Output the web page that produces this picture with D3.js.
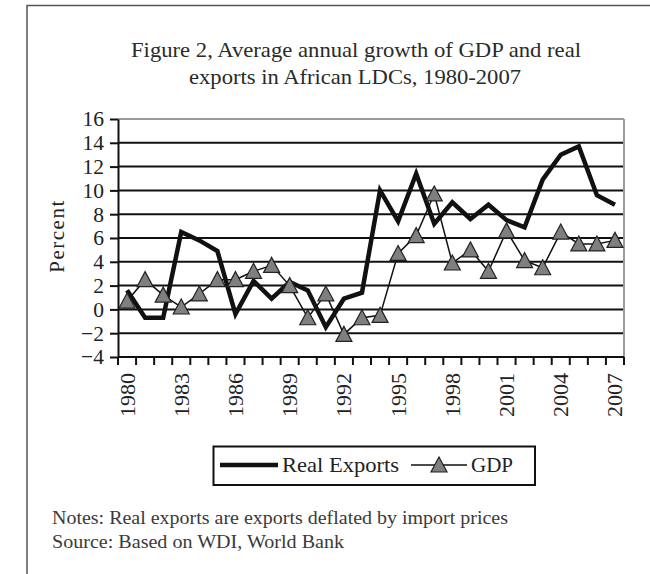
<!DOCTYPE html>
<html>
<head>
<meta charset="utf-8">
<script src="https://cdn.jsdelivr.net/npm/d3@7"></script>
<style>
  body { margin: 0; background: #fff; }
  svg { display: block; font-family: "Liberation Serif", "DejaVu Serif", serif; }
</style>
</head>
<body>
<div id="chart"></div>
<script>
// values (percent)
const years = d3.range(1980, 2008);
const labelYears = [1980, 1983, 1986, 1989, 1992, 1995, 1998, 2001, 2004, 2007];
const realExports = [1.6, -0.7, -0.7, 6.5, 5.8, 4.9, -0.4, 2.4, 0.9, 2.3, 1.6, -1.5, 0.9, 1.4,
  10.0, 7.4, 11.4, 7.2, 9.0, 7.6, 8.8, 7.5, 6.9, 10.9, 13.0, 13.7, 9.6, 8.8];
const gdp = [0.7, 2.5, 1.2, 0.2, 1.3, 2.5, 2.5, 3.2, 3.7, 2.0, -0.7, 1.3, -2.1, -0.7,
  -0.5, 4.7, 6.2, 9.7, 3.9, 5.0, 3.2, 6.6, 4.1, 3.5, 6.5, 5.5, 5.5, 5.8];
const yTicks = d3.range(-4, 17, 2);

const W = 650, H = 574;
const plot = { left: 118, right: 624, top: 119, bottom: 357 };
const ink = "#222";

const svg = d3.select("#chart").append("svg")
  .attr("width", W).attr("height", H);

svg.append("rect").attr("width", W).attr("height", H).attr("fill", "#fff");

// page frame (cropped at the right and bottom edges)
svg.append("rect")
  .attr("x", 27).attr("y", 5.5)
  .attr("width", 700).attr("height", 700)
  .attr("fill", "none").attr("stroke", "#555").attr("stroke-width", 1.5);

const x = d3.scaleBand().domain(years).range([plot.left, plot.right]).padding(0);
const y = d3.scaleLinear().domain([-4, 16]).range([plot.bottom, plot.top]);

// title
const title = svg.append("g").attr("fill", "#2a2a2a").attr("font-size", 21)
  .attr("text-anchor", "middle");
title.append("text").attr("x", 356).attr("y", 57)
  .attr("textLength", 450).attr("lengthAdjust", "spacingAndGlyphs")
  .text("Figure 2, Average annual growth of GDP and real");
title.append("text").attr("x", 355).attr("y", 84)
  .attr("textLength", 332).attr("lengthAdjust", "spacingAndGlyphs")
  .text("exports in African LDCs, 1980-2007");

// gridlines
svg.append("g")
  .selectAll("line")
  .data(yTicks.filter(v => v > -4))
  .join("line")
  .attr("x1", plot.left).attr("x2", plot.right)
  .attr("y1", d => y(d)).attr("y2", d => y(d))
  .attr("stroke", d => d === 16 ? "#9a9a9a" : "#111")
  .attr("stroke-width", 2);

// right border of plot area
svg.append("line")
  .attr("x1", plot.right).attr("x2", plot.right)
  .attr("y1", plot.top).attr("y2", plot.bottom)
  .attr("stroke", "#9a9a9a").attr("stroke-width", 2);

// y axis
const yAxis = svg.append("g")
  .attr("transform", `translate(${plot.left},0)`)
  .call(d3.axisLeft(y).tickValues(yTicks).tickFormat(d3.format("d"))
    .tickSize(8).tickSizeOuter(0).tickPadding(6));
yAxis.select(".domain").attr("stroke", "#111").attr("stroke-width", 2);
yAxis.selectAll(".tick line").attr("stroke", "#111").attr("stroke-width", 2);
yAxis.selectAll("text").attr("font-size", 21.5).attr("fill", ink)
  .attr("font-family", "Liberation Serif");

svg.append("text")
  .attr("transform", "translate(64,236) rotate(-90)")
  .attr("text-anchor", "middle")
  .attr("font-size", 21).attr("letter-spacing", 1.5).attr("fill", ink)
  .text("Percent");

// x axis: ticks between categories, labels every third year
const xAxis = svg.append("g")
  .attr("transform", `translate(0,${plot.bottom})`)
  .call(d3.axisBottom(x).tickValues(labelYears).tickSize(0).tickPadding(0));
xAxis.select(".domain").remove();
xAxis.selectAll("text")
  .attr("font-size", 22).attr("fill", ink).attr("font-family", "Liberation Serif")
  .attr("text-anchor", "end")
  .attr("transform", "translate(0,16) rotate(-90)")
  .attr("x", 0).attr("y", 0).attr("dy", "0.34em");

const gx = svg.append("g");
gx.append("line")
  .attr("x1", plot.left).attr("x2", plot.right)
  .attr("y1", plot.bottom).attr("y2", plot.bottom)
  .attr("stroke", "#111").attr("stroke-width", 2);
gx.selectAll("line.tk")
  .data(years.map(d => x(d)).concat([plot.right]))
  .join("line").attr("class", "tk")
  .attr("x1", d => d).attr("x2", d => d)
  .attr("y1", plot.bottom).attr("y2", plot.bottom + 8)
  .attr("stroke", "#111").attr("stroke-width", 2);

const cx = d => x(d) + x.bandwidth() / 2;

// GDP thin line
svg.append("path")
  .datum(gdp)
  .attr("fill", "none").attr("stroke", "#111").attr("stroke-width", 1.5)
  .attr("d", d3.line().x((d, i) => cx(years[i])).y(d => y(d)));

// real exports thick line
svg.append("path")
  .datum(realExports)
  .attr("fill", "none").attr("stroke", "#111").attr("stroke-width", 4.5)
  .attr("stroke-linejoin", "miter")
  .attr("d", d3.line().x((d, i) => cx(years[i])).y(d => y(d)));

const tri = "M0,-8L8,7L-8,7Z";
svg.append("g")
  .selectAll("path")
  .data(gdp)
  .join("path")
  .attr("transform", (d, i) => `translate(${cx(years[i])},${y(d)})`)
  .attr("d", tri)
  .attr("fill", "#7f7f7f").attr("stroke", "#222").attr("stroke-width", 1.2);

// legend
const lg = svg.append("g");
lg.append("rect")
  .attr("x", 213.5).attr("y", 446.5).attr("width", 321.5).attr("height", 38.5)
  .attr("fill", "#fff").attr("stroke", "#111").attr("stroke-width", 2);
lg.append("line").attr("x1", 220).attr("x2", 278).attr("y1", 465).attr("y2", 465)
  .attr("stroke", "#111").attr("stroke-width", 4.5);
lg.append("text").attr("x", 282).attr("y", 465).attr("dy", "0.34em")
  .attr("font-size", 21).attr("fill", ink)
  .attr("textLength", 117).attr("lengthAdjust", "spacingAndGlyphs")
  .text("Real Exports");
lg.append("line").attr("x1", 411).attr("x2", 467).attr("y1", 465).attr("y2", 465)
  .attr("stroke", "#111").attr("stroke-width", 1.5);
lg.append("path").attr("transform", "translate(439,465)").attr("d", tri)
  .attr("fill", "#7f7f7f").attr("stroke", "#222").attr("stroke-width", 1.2);
lg.append("text").attr("x", 471).attr("y", 465).attr("dy", "0.34em")
  .attr("font-size", 21).attr("fill", ink).text("GDP");

// notes
const notes = svg.append("g").attr("font-size", 18).attr("fill", "#3a3a3a");
notes.append("text").attr("x", 52).attr("y", 524)
  .attr("textLength", 456).attr("lengthAdjust", "spacingAndGlyphs")
  .text("Notes: Real exports are exports deflated by import prices");
notes.append("text").attr("x", 52).attr("y", 548)
  .attr("textLength", 292).attr("lengthAdjust", "spacingAndGlyphs")
  .text("Source: Based on WDI, World Bank");
</script>
</body>
</html>
